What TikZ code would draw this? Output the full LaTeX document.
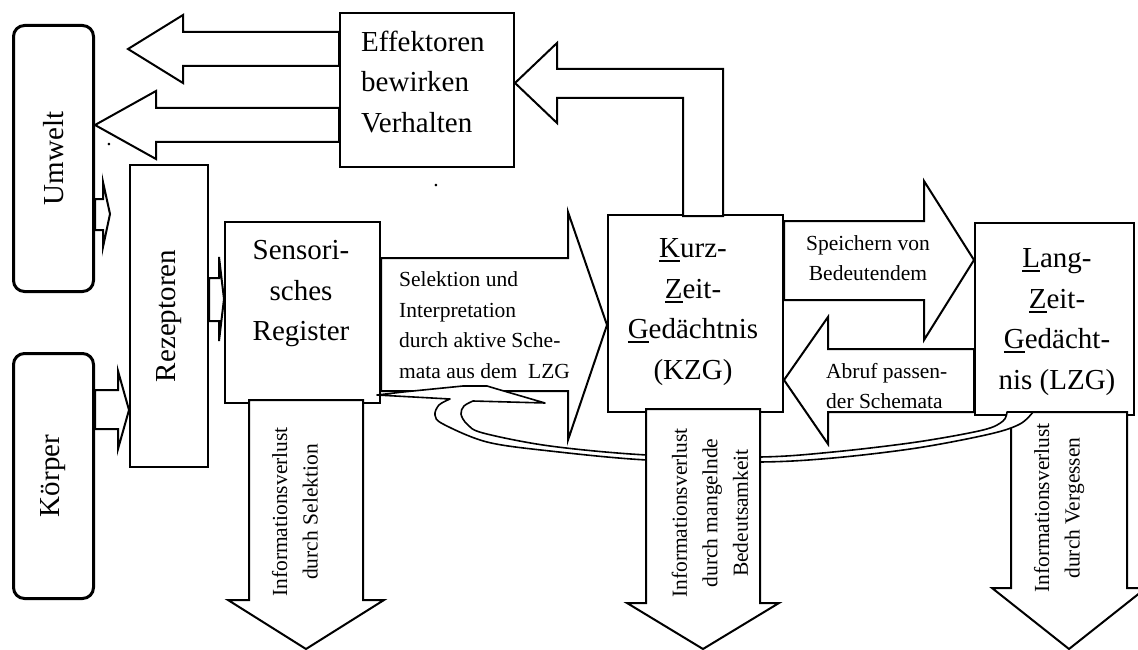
\documentclass[tikz,border=0pt]{standalone}
\usepackage{fontspec}
\setmainfont{Liberation Serif}
% underline of a single initial letter, thicker than \underline
\newcommand\firstul[1]{\setbox0\hbox{#1}\rlap{\rule[-4.5pt]{\wd0}{1.8pt}}#1}
\begin{document}
\begin{tikzpicture}[x=1pt,y=-1pt,
  box/.style={draw, fill=white, line width=2pt, inner sep=0pt, anchor=north west},
  rbox/.style={box, line width=3pt, rounded corners=11pt},
  blk/.style={draw, fill=white, line width=2pt, line join=miter},
  big/.style={font=\fontsize{29}{40.5}\selectfont, inner sep=0pt, align=center},
  small/.style={font=\fontsize{21.5}{30.5}\selectfont, inner sep=0pt},
]
\useasboundingbox (0,0) rectangle (1138,650);
\clip (0,0) rectangle (1138,650);

% ---- boxes ----
\node[rbox, minimum width=80pt, minimum height=266pt] (umw) at (12,24) {};
\node[rbox, minimum width=80pt, minimum height=245pt] (kor) at (12,352) {};
\node[box, minimum width=78pt, minimum height=302pt] (rez) at (129,164) {};
\node[box, minimum width=174pt, minimum height=154pt] (eff) at (339,12) {};
\node[box, minimum width=155pt, minimum height=181pt] (sens) at (224,221) {};
\node[box, minimum width=175pt, minimum height=197pt] (kzg) at (607,214) {};
\node[box, minimum width=159pt, minimum height=192pt] (lzg) at (974,222) {};

% ---- effectors act on the environment ----
\filldraw[blk] (eff.west |- 0,32) -- (183,32) -- (183,15) -- (128,49) -- (183,83)
  -- (183,66) -- (eff.west |- 0,66) -- cycle;
\filldraw[blk] (eff.west |- 0,108) -- (156,108) -- (156,91) -- (umw.east |- 0,125)
  -- (156,159) -- (156,142) -- (eff.west |- 0,142) -- cycle;

% ---- small input arrows ----
\filldraw[blk] (umw.east |- 0,199) -- (103,199) -- (103,182) -- (110,214) -- (103,247)
  -- (103,230) -- (umw.east |- 0,230) -- cycle;
\filldraw[blk] (kor.east |- 0,390) -- (118,390) -- (118,371) -- (rez.west |- 0,410)
  -- (118,449) -- (118,429) -- (kor.east |- 0,429) -- cycle;
\filldraw[blk] (rez.east |- 0,278) -- (219,278) -- (219,257) -- (sens.west |- 0,299)
  -- (219,341) -- (219,321) -- (rez.east |- 0,321) -- cycle;

% ---- KZG back to the effectors ----
\filldraw[blk] (683,216) -- (683,98) -- (557,98) -- (557,123) -- (eff.east |- 0,83)
  -- (557,43) -- (557,69) -- (723,69) -- (723,216) -- cycle;

% ---- selection, storing, retrieval ----
\filldraw[blk] (sens.east |- 0,258) -- (568,258) -- (568,212) -- (kzg.west |- 0,325)
  -- (568,440) -- (568,391) -- (sens.east |- 0,391) -- cycle;
\filldraw[blk] (kzg.east |- 0,221) -- (924,221) -- (924,181) -- (lzg.west |- 0,260)
  -- (924,340) -- (924,300) -- (kzg.east |- 0,300) -- cycle;
\filldraw[blk] (lzg.west |- 0,349) -- (828,349) -- (828,317) -- (kzg.east |- 0,380)
  -- (828,444) -- (828,412) -- (lzg.west |- 0,412) -- cycle;

% ---- loss arrows (first and last) ----
\filldraw[blk] (249,400) -- (249,600) -- (228,600) -- (306,649) -- (384,600)
  -- (363,600) -- (363,400) -- cycle;
\filldraw[blk] (1011,412) -- (1011,588) -- (992,588) -- (1069,649) -- (1146,588)
  -- (1127,588) -- (1127,412) -- cycle;

% ---- curved feedback from the LZG ----
\filldraw[blk, line width=1.6pt, line join=round]
  plot[smooth, tension=0.55] coordinates {(1007,412) (1003,421) (983,430) (917,442)
    (833,452) (760,457) (647,455) (550,446) (483,433) (467,424) (461,414) (464,406) (473,401)}
  -- (545,403) -- (497,389) -- (487,386) -- (463,386) -- (403,392) -- (377,395)
  -- plot[smooth, tension=0.55] coordinates {(450,399) (439,405) (435,415) (443,424)
    (487,442) (550,451) (647,460) (760,462) (833,458) (917,448) (990,434) (1020,424) (1033,412)}
  -- cycle;

% ---- middle loss arrow ----
\filldraw[blk] (646,409) -- (646,603) -- (627,603) -- (703,649) -- (779,603)
  -- (760,603) -- (760,409) -- cycle;

% ---- texts ----
\node[big, rotate=90] (tumw) at (umw.center) {Umwelt};
\node[big, rotate=90] (tkor) at (kor.center) {Körper};
\node[big, rotate=90] (trez) at (rez.center) {Rezeptoren};
\node[big, anchor=west, align=left] (teff) at (361,82) {Effektoren\\bewirken\\Verhalten};
\node[big] (tsens) at (301,294) {Sensori-\\sches\\Register};
\node[big] (tkzg) at (693,312) {\firstul{K}urz-\\\firstul{Z}eit-\\\firstul{G}edächtnis\\(KZG)};
\node[big] (tlzg) at (1057,322) {\firstul{L}ang-\\\firstul{Z}eit-\\\firstul{G}edächt-\\nis (LZG)};
\node[small, anchor=west, align=left] (tsel) at (399,325)
  {Selektion und\\Interpretation\\durch aktive Sche-\\mata aus dem\ \ LZG};
\node[small, align=center] (tspe) at (868,258) {Speichern von\\Bedeutendem};
\node[small, anchor=west, align=left] (tabr) at (826,386) {Abruf passen-\\der Schemata};
\node[small, rotate=90, align=center] (tv1) at (295,512) {Informationsverlust\\durch Selektion};
\node[small, rotate=90, align=center] (tv2) at (710,513)
  {Informationsverlust\\durch mangelnde\\Bedeutsamkeit};
\node[small, rotate=90, align=center] (tv3) at (1059,508) {Informationsverlust\\durch Vergessen};
\node[small] (dot1) at (109,145) {.};
\node[small] (dot2) at (436,186) {.};
\end{tikzpicture}
\end{document}
